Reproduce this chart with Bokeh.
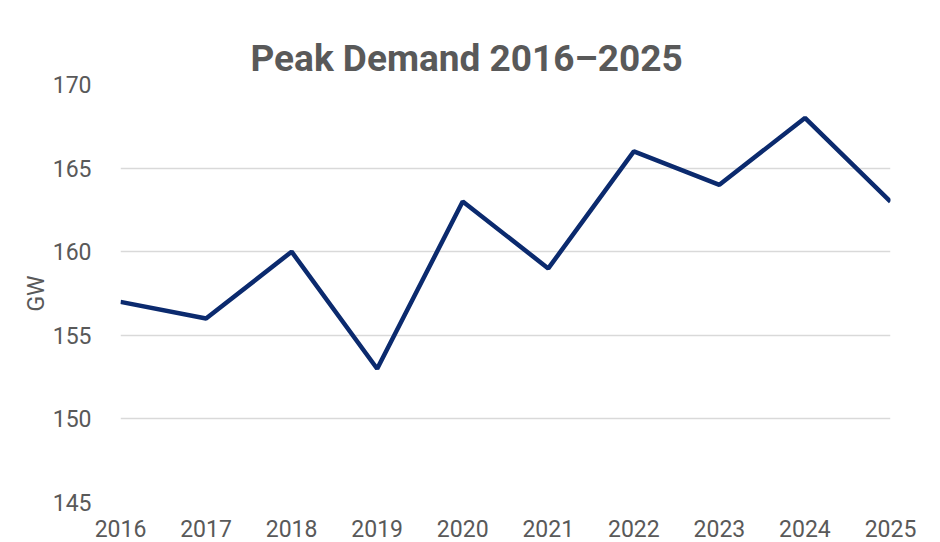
from bokeh.plotting import figure
from bokeh.models import Range1d, FixedTicker, Title
from bokeh.embed import file_html
from bokeh.resources import INLINE

years = [2016, 2017, 2018, 2019, 2020, 2021, 2022, 2023, 2024, 2025]
demand_gw = [157, 156, 160, 153, 163, 159, 166, 164, 168, 163]
y_ticks = [145, 150, 155, 160, 165, 170]
title_text = "Peak Demand 2016\u20132025"

p = figure(width=940, height=542, output_backend="svg", toolbar_location=None,
           x_range=Range1d(2016, 2025), y_range=Range1d(145, 170),
           min_border_left=120, min_border_right=50, min_border_top=84, min_border_bottom=40)
p.title = None

# real title first, then an invisible spacer
p.add_layout(Title(text=title_text, text_font="Roboto", text_font_style="bold",
                   text_font_size="37px", text_color="#595959", align="left",
                   offset=130, vertical_align="bottom", standoff=10), "above")
p.add_layout(Title(text=".", text_font_size="12px", text_alpha=0, standoff=6), "above")

p.line(years, demand_gw, line_color="#0b2a6e", line_width=4.5)

p.outline_line_color = None
p.xgrid.grid_line_color = None
p.ygrid.grid_line_color = "#d9d9d9"
p.ygrid.grid_line_width = 1.5

p.xaxis.ticker = FixedTicker(ticks=years)
p.yaxis.ticker = FixedTicker(ticks=y_ticks)
for ax in (p.xaxis[0], p.yaxis[0]):
    ax.axis_line_color = None
    ax.major_tick_line_color = None
    ax.minor_tick_line_color = None
    ax.major_label_text_font = "Roboto"
    ax.major_label_text_font_size = "23px"
    ax.major_label_text_color = "#595959"
p.yaxis.major_label_standoff = 23
p.xaxis.major_label_standoff = 11
p.yaxis.axis_label = "GW"
p.yaxis.axis_label_text_font = "Roboto"
p.yaxis.axis_label_text_font_style = "normal"
p.yaxis.axis_label_text_font_size = "23px"
p.yaxis.axis_label_text_color = "#595959"
p.yaxis.axis_label_standoff = 0

open("out.html", "w").write(file_html(p, INLINE))
